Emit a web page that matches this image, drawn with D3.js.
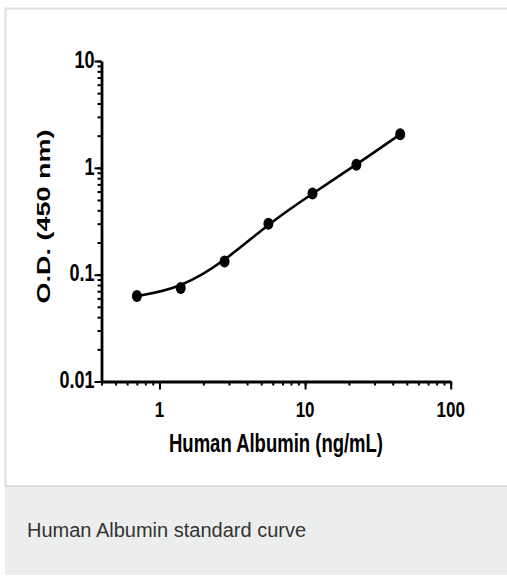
<!DOCTYPE html>
<html>
<head>
<meta charset="utf-8">
<script src="https://cdn.jsdelivr.net/npm/d3@7"></script>
<style>
  body { margin: 0; background: #fff; }
  svg { display: block; }
</style>
</head>
<body>
<div id="chart"></div>
<script>
// standard curve data (ng/mL vs O.D. 450 nm)
const concentrations = [0.7, 1.4, 2.8, 5.6, 11.25, 22.5, 45];
const odValues = [0.063, 0.075, 0.133, 0.30, 0.575, 1.07, 2.06];

const xMajorTicks = [1, 10, 100];
const xTickLabels = ["1", "10", "100"];
const yMajorTicks = [0.01, 0.1, 1, 10];
const yTickLabels = ["0.01", "0.1", "1", "10"];

const W = 507, H = 576;
const boldFont = "'Liberation Sans', Arial, sans-serif";

const svg = d3.select("#chart").append("svg")
    .attr("width", W)
    .attr("height", H);

// frame and caption band
svg.append("rect")
    .attr("x", 5.5).attr("y", 8.5)
    .attr("width", W + 10).attr("height", 477.5)
    .attr("fill", "#fff")
    .attr("stroke", "#dedede")
    .attr("stroke-width", 2);

svg.append("rect")
    .attr("x", 5).attr("y", 487)
    .attr("width", W).attr("height", 88)
    .attr("fill", "#eceeed");

svg.append("text")
    .attr("x", 27).attr("y", 537)
    .attr("font-family", "'Liberation Sans', Arial, sans-serif")
    .attr("font-size", 20)
    .attr("fill", "#333")
    .text("Human Albumin standard curve");

// scales
const x = d3.scaleLog().domain([0.4, 100]).range([101.5, 450.7]);
const y = d3.scaleLog().domain([0.01, 10]).range([381.5, 61]);

const plot = svg.append("g");

// minor ticks first, then major ticks on top
plot.append("g")
    .attr("transform", "translate(0,381.5)")
    .call(d3.axisBottom(x).ticks(20).tickSize(4).tickFormat(""))
    .call(g => g.select(".domain").remove());

plot.append("g")
    .attr("transform", "translate(101.5,0)")
    .call(d3.axisLeft(y).ticks(20).tickSize(4).tickFormat(""))
    .call(g => g.select(".domain").remove());

plot.append("g")
    .attr("transform", "translate(0,381.5)")
    .call(d3.axisBottom(x).tickValues(xMajorTicks).tickSize(8).tickSizeOuter(0).tickFormat(""));

plot.append("g")
    .attr("transform", "translate(101.5,0)")
    .call(d3.axisLeft(y).tickValues(yMajorTicks).tickSize(7).tickSizeOuter(0).tickFormat(""));

plot.selectAll(".tick line").attr("stroke", "#000").attr("stroke-width", 2);
plot.selectAll(".domain").attr("stroke", "#000").attr("stroke-width", 2.8);

// tick labels (source picture is stretched vertically)
const sy = 1.3;
plot.selectAll(".xlab")
    .data(xMajorTicks)
    .join("text")
    .attr("class", "xlab")
    .attr("transform", d => `translate(${x(d)},416.5) scale(1,${sy})`)
    .attr("text-anchor", "middle")
    .attr("font-family", boldFont)
    .attr("font-weight", "bold")
    .attr("font-size", 17)
    .text((d, i) => xTickLabels[i]);

plot.selectAll(".ylab")
    .data(yMajorTicks)
    .join("text")
    .attr("class", "ylab")
    .attr("transform", d => `translate(94.5,${y(d) + 6.8}) scale(1,${sy})`)
    .attr("text-anchor", "end")
    .attr("font-family", boldFont)
    .attr("font-weight", "bold")
    .attr("font-size", 18)
    .text((d, i) => yTickLabels[i]);

// axis titles
svg.append("text")
    .attr("transform", `translate(276,451.5) scale(1,1.38)`)
    .attr("text-anchor", "middle")
    .attr("font-family", boldFont)
    .attr("font-weight", "bold")
    .attr("font-size", 18.5)
    .text("Human Albumin (ng/mL)");

svg.append("text")
    .attr("transform", `translate(49.5,216.5) rotate(-90) scale(1.5,1)`)
    .attr("text-anchor", "middle")
    .attr("font-family", boldFont)
    .attr("font-weight", "bold")
    .attr("font-size", 18)
    .text("O.D. (450 nm)");

// fitted curve and points
const pts = concentrations.map((c, i) => [c, odValues[i]]);

plot.append("path")
    .datum(pts)
    .attr("fill", "none")
    .attr("stroke", "#000")
    .attr("stroke-width", 2.6)
    .attr("d", d3.line()
        .x(d => x(d[0]))
        .y(d => y(d[1]))
        .curve(d3.curveBasis));

plot.selectAll(".pt")
    .data(pts)
    .join("ellipse")
    .attr("class", "pt")
    .attr("cx", d => x(d[0]))
    .attr("cy", d => y(d[1]))
    .attr("rx", 5)
    .attr("ry", 6)
    .attr("fill", "#000");
</script>
</body>
</html>
